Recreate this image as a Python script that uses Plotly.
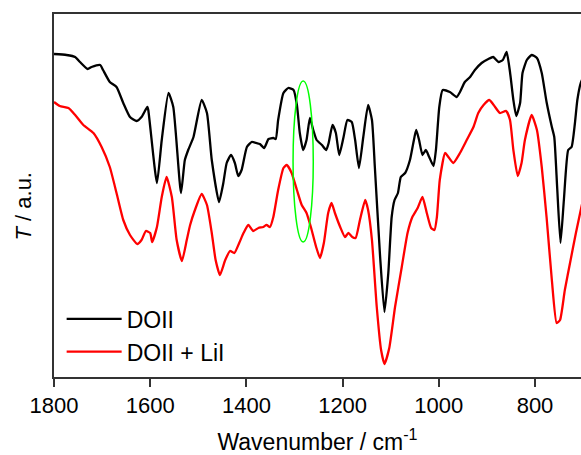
import plotly.graph_objects as go

# Wavenumbers (cm^-1) and transmittance (a.u.)
doii_wn = [1800, 1774, 1756, 1746, 1730, 1722, 1704, 1698, 1684, 1670, 1656, 1642, 1628, 1618,
           1606, 1604, 1586, 1576, 1562, 1552, 1536, 1528, 1521, 1510, 1493, 1482, 1472, 1457,
           1448, 1441, 1432, 1424, 1417, 1410, 1399, 1389, 1379, 1372, 1363, 1354, 1344, 1339,
           1334, 1323, 1313, 1302, 1295, 1289, 1282, 1275, 1268, 1261, 1254, 1243, 1234, 1229,
           1221, 1214, 1207, 1198, 1190, 1181, 1174, 1166, 1157, 1147, 1139, 1133, 1122, 1113,
           1105, 1098, 1092, 1085, 1079, 1070, 1060, 1053, 1047, 1041, 1034, 1027, 1020, 1011,
           1006, 999, 992, 977, 963, 956, 946, 935, 925, 911, 897, 887, 876, 867, 859, 852,
           845, 839, 831, 826, 817, 807, 796, 786, 776, 765, 760, 754, 747, 740, 731, 724,
           717, 712, 705, 698]
doii_t = [323, 322, 320, 315, 308, 310, 312, 307, 295, 290, 274, 260, 256, 260,
          270, 267, 194, 237, 284, 270, 184, 217, 227, 240, 277, 264, 217, 175,
          194, 214, 222, 214, 201, 207, 230, 235, 234, 233, 229, 238, 239, 238,
          257, 284, 289, 287, 272, 244, 227, 237, 259, 247, 237, 232, 227, 234,
          252, 244, 222, 240, 257, 255, 237, 209, 240, 272, 257, 210, 120, 65,
          104, 160, 177, 184, 200, 204, 217, 234, 247, 237, 222, 227, 220, 211,
          227, 270, 287, 285, 280, 285, 295, 300, 307, 314, 318, 320, 315, 317, 325, 305,
          277, 261, 274, 304, 317, 322, 319, 304, 275, 250, 240, 190, 134, 177, 227, 230,
          254, 277, 294, 302]

lii_wn = [1800, 1788, 1770, 1756, 1739, 1718, 1701, 1684, 1670, 1656, 1642, 1627, 1618, 1609,
          1600, 1596, 1586, 1576, 1566, 1555, 1545, 1534, 1524, 1517, 1507, 1493, 1482, 1472,
          1464, 1455, 1444, 1434, 1425, 1415, 1406, 1396, 1386, 1375, 1365, 1358, 1351, 1344,
          1334, 1323, 1316, 1306, 1295, 1285, 1275, 1266, 1255, 1247, 1239, 1230, 1223, 1216,
          1205, 1195, 1188, 1180, 1173, 1164, 1153, 1147, 1139, 1129, 1120, 1113, 1103, 1091,
          1077, 1065, 1055, 1044, 1034, 1025, 1016, 1009, 1004, 998, 987, 980, 970, 956,
          942, 928, 918, 907, 895, 883, 873, 860, 852, 845, 836, 828, 821, 807,
          796, 786, 776, 765, 755, 748, 738, 726, 715, 704, 698]
lii_t = [275, 271, 269, 262, 252, 244, 230, 210, 184, 157, 142, 133, 137, 146,
         144, 135, 150, 180, 200, 180, 137, 116, 137, 152, 167, 183, 172, 144,
         117, 102, 117, 126, 124, 134, 144, 152, 146, 149, 150, 152, 150, 160,
         187, 209, 212, 204, 187, 172, 164, 150, 130, 119, 134, 164, 174, 164,
         150, 140, 144, 140, 139, 157, 177, 167, 137, 70, 27, 13, 29, 70,
         110, 144, 160, 169, 180, 164, 149, 147, 160, 197, 224, 220, 214, 224,
         237, 250, 264, 272, 277, 270, 264, 266, 257, 227, 201, 214, 237, 262,
         247, 210, 160, 97, 54, 57, 87, 117, 144, 169, 182]

series_names = ["DOII", "DOII + LiI"]
series_colors = ["#000000", "#ff0000"]
x_ticks = [1800, 1600, 1400, 1200, 1000, 800]

# highlighted band (green ellipse)
band_center = 1282
band_halfwidth = 21
band_t_low, band_t_high = 135, 296

FONT = "Arial, Liberation Sans, sans-serif"

fig = go.Figure()
for wn, t, name, col in [(doii_wn, doii_t, series_names[0], series_colors[0]),
                         (lii_wn, lii_t, series_names[1], series_colors[1])]:
    fig.add_trace(go.Scatter(x=wn, y=t, mode="lines", name=name,
                             line=dict(color=col, width=2.3, shape="spline", smoothing=0.5)))

fig.add_shape(type="circle", xref="x", yref="y",
              x0=band_center + band_halfwidth, x1=band_center - band_halfwidth,
              y0=band_t_low, y1=band_t_high,
              line=dict(color="#00ff00", width=1.5), layer="above")

# y-axis title as rotated text (sits slightly below the plot-area centre in the reference)
fig.add_annotation(text="<i>T</i> / a.u.", textangle=-90, xref="paper", yref="paper",
                   x=-31.5 / 527, y=(377 - 206) / 363, xanchor="center", yanchor="middle",
                   showarrow=False, font=dict(size=22, family=FONT, color="black"))

fig.update_layout(
    width=581, height=455,
    margin=dict(l=54, r=0, t=14, b=78),
    paper_bgcolor="white", plot_bgcolor="white",
    font=dict(family=FONT, size=22, color="black"),
    showlegend=True,
    legend=dict(x=0.0145, y=0.01, xanchor="left", yanchor="bottom",
                bgcolor="rgba(0,0,0,0)", borderwidth=0,
                font=dict(size=23), itemwidth=55, tracegroupgap=0),
    xaxis=dict(range=[1800, 704.4], tickvals=x_ticks, ticks="outside", ticklen=8,
               tickwidth=1.5, tickcolor="#333333", showline=True, linecolor="#333333",
               linewidth=1.5, mirror=True, showgrid=False, zeroline=False,
               title=dict(text="Wavenumber / cm<sup>-1</sup>", standoff=21,
                          font=dict(size=23)),
               tickfont=dict(size=22)),
    yaxis=dict(range=[0, 363], showticklabels=False, ticks="", showline=True,
               linecolor="#333333", linewidth=1.5, showgrid=False, zeroline=False),
)

fig.write_html("out.html")
